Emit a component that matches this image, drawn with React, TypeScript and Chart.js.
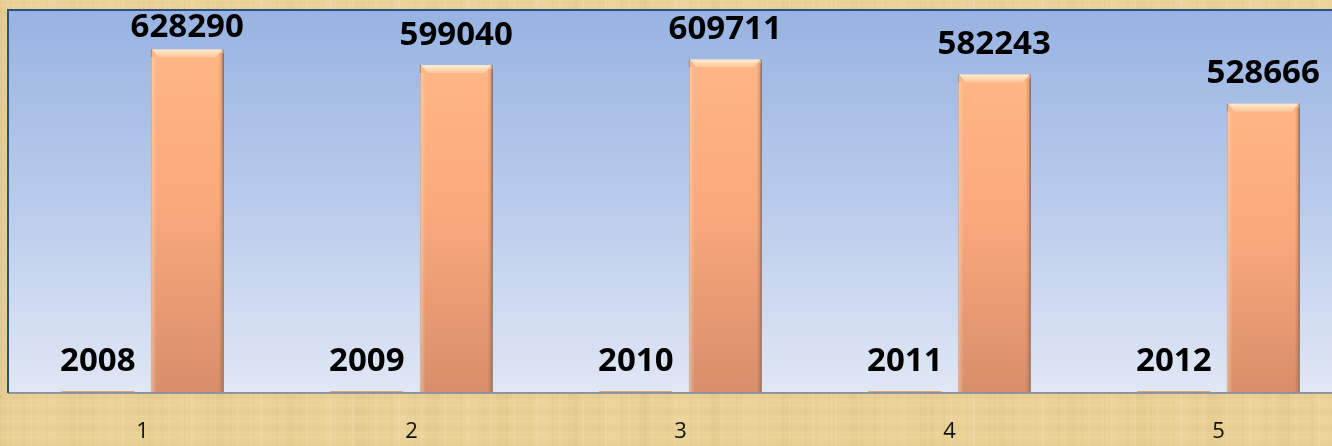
import React, { useEffect, useRef } from "react";
import { Chart, registerables } from "chart.js";
Chart.register(...registerables);

const categories = ["1", "2", "3", "4", "5"];
const years = [2008, 2009, 2010, 2011, 2012];
const values = [628290, 599040, 609711, 582243, 528666];
const yMax = 700000;

const LABEL_FONT = "bold 33px 'Open Sans', 'Liberation Sans', sans-serif";

export default function App() {
  const ref = useRef<HTMLCanvasElement>(null);

  useEffect(() => {
    document.documentElement.style.overflow = "hidden";
    document.body.style.overflow = "hidden";
    document.body.style.background =
      "repeating-linear-gradient(90deg, rgba(175,135,60,0.05) 0 2px, transparent 2px 7px, rgba(255,248,225,0.10) 7px 9px, transparent 9px 23px)," +
      "repeating-linear-gradient(90deg, rgba(190,150,80,0.06) 0 11px, transparent 11px 37px, rgba(250,235,190,0.08) 37px 52px, transparent 52px 71px)," +
      "repeating-linear-gradient(0deg, rgba(255,248,225,0.07) 0 2px, transparent 2px 13px, rgba(170,130,60,0.04) 13px 15px, transparent 15px 29px)," +
      "linear-gradient(180deg, #edd69c 0%, #e9d197 50%, #e5cb8e 100%)";
    const canvas = ref.current!;

    const plotBg = {
      id: "plotBg",
      beforeDatasetsDraw(chart: any) {
        const { ctx, chartArea: a } = chart;
        ctx.save();
        const g = ctx.createLinearGradient(0, a.top, 0, a.bottom);
        g.addColorStop(0, "#98b3e2");
        g.addColorStop(0.5, "#b9cbeb");
        g.addColorStop(1, "#e0e7f4");
        ctx.fillStyle = g;
        ctx.fillRect(a.left, a.top, a.right - a.left, a.bottom - a.top);
        ctx.strokeStyle = "#8f949c";
        ctx.lineWidth = 2;
        ctx.beginPath();
        ctx.moveTo(a.left, a.bottom + 1);
        ctx.lineTo(a.right, a.bottom + 1);
        ctx.stroke();
        ctx.strokeStyle = "#2d4f87";
        ctx.lineWidth = 2;
        ctx.beginPath();
        ctx.moveTo(a.left, a.bottom + 1);
        ctx.lineTo(a.left, a.top);
        ctx.lineTo(a.right, a.top);
        ctx.stroke();
        ctx.restore();
      },
      beforeDatasetDraw(chart: any, args: any) {
        if (args.index === 1) {
          const ctx = chart.ctx;
          ctx.save();
          ctx.shadowColor = "rgba(40,30,20,0.45)";
          ctx.shadowBlur = 5;
          ctx.shadowOffsetX = 2;
          ctx.shadowOffsetY = 2;
        }
      },
      afterDatasetDraw(chart: any, args: any) {
        if (args.index === 1) {
          const ctx = chart.ctx;
          ctx.restore();
          const meta = chart.getDatasetMeta(1);
          ctx.save();
          meta.data.forEach((bar: any) => {
            const left = bar.x - bar.width / 2;
            const right = bar.x + bar.width / 2;
            const top = bar.y;
            const g = ctx.createLinearGradient(0, top, 0, top + 8);
            g.addColorStop(0, "rgba(255,244,220,0.95)");
            g.addColorStop(1, "rgba(255,225,190,0.4)");
            ctx.fillStyle = g;
            ctx.beginPath();
            ctx.moveTo(left + 1, top);
            ctx.lineTo(right - 1, top);
            ctx.lineTo(right - 8, top + 8);
            ctx.lineTo(left + 8, top + 8);
            ctx.closePath();
            ctx.fill();
            const gl = ctx.createLinearGradient(left, 0, left + 6, 0);
            gl.addColorStop(0, "rgba(255,230,200,0.45)");
            gl.addColorStop(1, "rgba(255,230,200,0)");
            ctx.fillStyle = gl;
            ctx.fillRect(left, top + 8, 6, bar.base - top - 8);
            const gr = ctx.createLinearGradient(right - 5, 0, right, 0);
            gr.addColorStop(0, "rgba(120,60,30,0)");
            gr.addColorStop(1, "rgba(120,60,30,0.35)");
            ctx.fillStyle = gr;
            ctx.fillRect(right - 5, top + 4, 5, bar.base - top - 4);
          });
          ctx.restore();
        }
      },
      afterDatasetsDraw(chart: any) {
        const { ctx, chartArea: a } = chart;
        ctx.save();
        ctx.font = LABEL_FONT;
        ctx.fillStyle = "#000000";
        ctx.textAlign = "center";
        ctx.textBaseline = "alphabetic";
        chart.data.datasets.forEach((ds: any, di: number) => {
          const meta = chart.getDatasetMeta(di);
          meta.data.forEach((bar: any, i: number) => {
            const y = Math.max(bar.y - 20, a.top + 27);
            ctx.fillText(String(ds.data[i]), bar.x, y);
          });
        });
        ctx.restore();
      },
    };

    const chart = new Chart(canvas, {
      type: "bar",
      data: {
        labels: categories,
        datasets: [
          {
            label: "year",
            data: years,
            backgroundColor: "#dca27e",
            borderWidth: 0,
            barPercentage: 0.815,
            categoryPercentage: 0.665,
          },
          {
            label: "value",
            data: values,
            backgroundColor: (c: any) => {
              const ch = c.chart;
              const a = ch.chartArea;
              if (!a) return "#f8aa7c";
              const top = ch.scales.y.getPixelForValue(c.raw);
              const g = ch.ctx.createLinearGradient(0, top, 0, a.bottom);
              g.addColorStop(0, "#ffb685");
              g.addColorStop(0.45, "#f9a97c");
              g.addColorStop(1, "#d88e6b");
              return g;
            },
            borderColor: "rgba(130,80,50,0.55)",
            borderWidth: 1,
            barPercentage: 0.815,
            categoryPercentage: 0.665,
          },
        ],
      },
      options: {
        responsive: false,
        animation: false,
        events: [],
        layout: { padding: { left: 8, top: 10, right: 0, bottom: 0 } },
        plugins: {
          legend: { display: false },
          tooltip: { enabled: false },
          title: { display: false },
        },
        scales: {
          x: {
            grid: { display: false, drawTicks: false },
            border: { display: false },
            ticks: {
              color: "#111111",
              font: { family: "'Open Sans', 'Liberation Sans', sans-serif", size: 22 },
              padding: 27,
            },
            afterFit: (s: any) => {
              s.height = 54;
            },
          },
          y: {
            display: false,
            min: 0,
            max: yMax,
          },
        },
      },
      plugins: [plotBg],
    });
    return () => chart.destroy();
  }, []);

  return (
    <div style={{ position: "absolute", left: 0, top: 0, width: 1353, height: 446 }}>
      <canvas ref={ref} width={1353} height={446} style={{ width: 1353, height: 446, display: "block" }} />
    </div>
  );
}
